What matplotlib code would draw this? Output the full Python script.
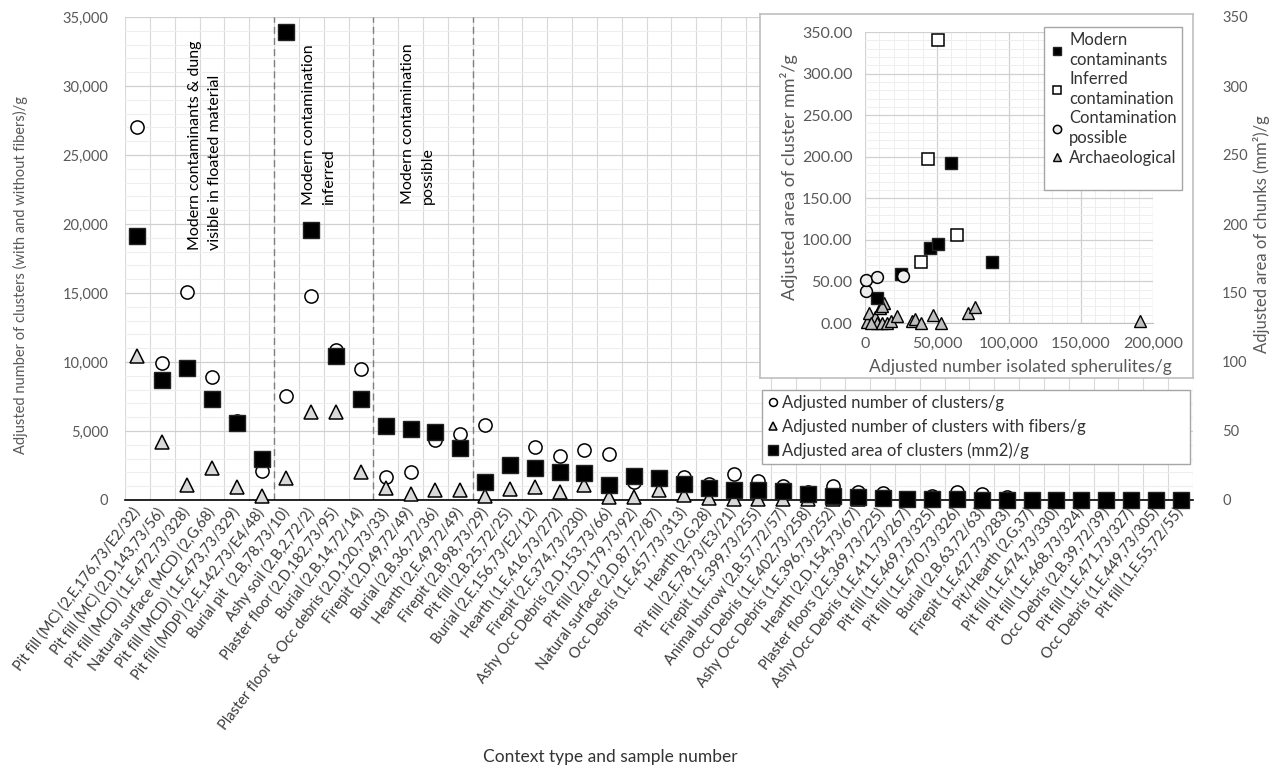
import numpy as np
import matplotlib
matplotlib.use("Agg")
import matplotlib.pyplot as plt
from matplotlib.lines import Line2D
from matplotlib.ticker import FuncFormatter, MultipleLocator, FixedLocator

plt.rcParams['font.family'] = ['Lato', 'DejaVu Sans']

# context labels (x axis)
contexts = [
    "Pit fill (MC) (2,E,176,73/E2/32)", "Pit fill (MC) (2,D,143,73/56)",
    "Pit fill (MCD) (1,E,472,73/328)", "Natural surface (MCD) (2,G,68)",
    "Pit fill (MCD) (1,E,473,73/329)", "Pit fill (MDP) (2,E,142,73/E4/48)",
    "Burial pit  (2,B,78,73/10)", "Ashy soil (2,B,2,72/2)",
    "Plaster floor (2,D,182,73/95)", "Burial (2,B,14,72/14)",
    "Plaster floor & Occ debris (2,D,120,73/33)", "Firepit (2,D,49,72/49)",
    "Burial (2,B,36,72/36)", "Hearth (2,E,49,72/49)",
    "Firepit (2,B,98,73/29)", "Pit fill (2,B,25,72/25)",
    "Burial (2,E,156,73/E2/12)", "Hearth (1,E,416,73/272)",
    "Firepit (2,E,374,73/230)", "Ashy Occ Debris (2,D,153,73/66)",
    "Pit fill (2,D,179,73/92)", "Natural surface (2,D,87,72/87)",
    "Occ Debris (1,E,457,73/313)", "Hearth (2,G,28)",
    "Pit fill (2,E,78,73/E3/21)", "Firepit (1,E,399,73/255)",
    "Animal burrow (2,B,57,72/57)", "Occ Debris (1,E,402,73/258)",
    "Ashy Occ Debris (1,E,396,73/252)", "Hearth (2,D,154,73/67)",
    "Plaster floors (2,E,369,73/225)", "Ashy Occ Debris (1,E,411,73/267)",
    "Pit fill (1,E,469,73/325)", "Pit fill (1,E,470,73/326)",
    "Burial (2,B,63,72/63)", "Firepit (1,E,427,73/283)",
    "Pit/Hearth (2,G,37)", "Pit fill (1,E,474,73/330)",
    "Pit fill (1,E,468,73/324)", "Occ Debris (2,B,39,72/39)",
    "Pit fill (1,E,471,73/327)", "Occ Debris (1,E,449,73/305)",
    "Pit fill (1,E,55,72/55)",
]

# adjusted number of clusters/g
clusters = [27000, 9900, 15100, 8900, 5700, 2100, 7500, 14800, 10900, 9500,
            1650, 2000, 4350, 4750, 5400, 2500, 3850, 3200, 3650, 3300,
            1300, 1520, 1650, 1160, 1870, 1400, 1000, 600, 980, 580,
            500, 0, 260, 600, 430, 250, 0, 0, 0, 0, 0, 0, 0]

# adjusted number of clusters with fibers/g
fibers = [10400, 4200, 1100, 2300, 950, 300, 1600, 6350, 6350, 2000,
          900, 450, 750, 750, 300, 800, 950, 580, 1100, 250,
          250, 750, 350, 150, 100, 100, 80, 60, 60, 50,
          40, 30, 20, 20, 10, 10, 0, 0, 0, 0, 0, 0, 0]

# adjusted area of clusters (mm2)/g  (secondary axis)
area = [191, 87, 95.7, 73, 55.8, 29.7, 339, 195.6, 104, 73,
        53.6, 51.6, 49.5, 37.5, 13, 25.4, 23.2, 20.5, 19.8, 10.9,
        17.6, 15.9, 11.5, 8.5, 7.5, 7.2, 6.5, 4, 3.2, 2.5,
        1.8, 1.0, 0.8, 0.5, 0.3, 0.2, 0.1, 0.1, 0, 0, 0, 0, 0]

# inset scatter data (isolated spherulites/g vs area mm2/g)
modern_x = [8100, 25000, 45100, 50900, 59700, 88000]
modern_y = [29.7, 59, 89.9, 95, 192, 73.8]
inferred_x = [38700, 43500, 50900, 63700]
inferred_y = [73.8, 197, 340, 105.9]
possible_x = [700, 700, 8100, 26500]
possible_y = [38.9, 51.7, 55.7, 57]
arch_x = [1200, 3000, 6900, 8100, 10400, 11600, 13200, 15000, 18000, 22000,
          32400, 34700, 38700, 47500, 52800, 71700, 76400, 191000, 4500, 12000]
arch_y = [1.6, 11.6, 7.6, 0.4, 17.7, 0.2, 23.7, 0.3, 3, 8,
          2, 5, 0.5, 9.7, 0.5, 11.6, 19.7, 3, 0.5, 20]

grey = '#595959'
W, H = 1277, 769

fig = plt.figure(figsize=(W/100, H/100), dpi=100)

# main chart
ax = fig.add_axes([125/W, 1-500/H, (1193-125)/W, (500-17)/H])
x = np.arange(len(contexts))
ax.set_xlim(-0.5, len(contexts)-0.5)
ax.set_ylim(0, 35000)
ax.yaxis.set_major_locator(MultipleLocator(5000))
ax.yaxis.set_minor_locator(MultipleLocator(1000))
ax.yaxis.set_major_formatter(FuncFormatter(lambda v, p: f"{v:,.0f}"))
ax.set_xticks(x)
ax.set_xticklabels(contexts, rotation=53, ha='right', va='center',
                   rotation_mode='anchor', fontsize=10.5, color='#3a3a3a')
ax.xaxis.set_minor_locator(FixedLocator(np.arange(len(contexts)+1)-0.5))
ax.grid(which='minor', axis='y', color='#eeeeee', lw=0.8)
ax.grid(which='major', axis='y', color='#d0d0d0', lw=0.9)
ax.grid(which='minor', axis='x', color='#d9d9d9', lw=0.8)
ax.set_axisbelow(True)
ax.tick_params(axis='both', which='both', length=0)
ax.tick_params(axis='x', pad=7)
ax.tick_params(axis='y', pad=12, labelsize=10.5, labelcolor=grey)
for s in ['top', 'right', 'left']:
    ax.spines[s].set_visible(False)
ax.spines['bottom'].set_color('black')
ax.spines['bottom'].set_linewidth(1.2)

# group separators
for b in [5.5, 9.5, 13.5]:
    ax.axvline(b, color='#7f7f7f', lw=1, dashes=(5, 3))

h1, = ax.plot(x, clusters, ls='none', marker='o', ms=9.5, mfc='white',
              mec='black', mew=1.1, clip_on=False, zorder=3,
              label='Adjusted number of clusters/g')
h2, = ax.plot(x, fibers, ls='none', marker='^', ms=10, mfc='#d9d9d9',
              mec='black', mew=1.1, clip_on=False, zorder=4,
              label='Adjusted number of clusters with fibers/g')

ax.text(2.74, 18100, "Modern contaminants & dung\nvisible in floated material",
        rotation=90, ha='center', va='bottom', multialignment='left',
        fontsize=11.5, linespacing=1.55)
ax.text(7.3, 21400, "Modern contamination\ninferred",
        rotation=90, ha='center', va='bottom', multialignment='left',
        fontsize=11.5, linespacing=1.55)
ax.text(11.3, 21450, "Modern contamination\npossible",
        rotation=90, ha='center', va='bottom', multialignment='left',
        fontsize=11.5, linespacing=1.55)

ax2 = ax.twinx()
ax2.set_ylim(0, 350)
ax2.yaxis.set_major_locator(MultipleLocator(50))
ax2.tick_params(axis='y', length=0, pad=21, labelsize=10.5, labelcolor=grey)
for s in ax2.spines.values():
    s.set_visible(False)
h3, = ax2.plot(x, area, ls='none', marker='s', ms=11, mfc='black',
               mec='#222222', mew=1, clip_on=False, zorder=5,
               label='Adjusted area of clusters (mm2)/g')

leg = ax2.legend(handles=[h1, h2, h3], loc='upper left', mode='expand',
                 bbox_to_anchor=(762/W, 1-460/H, 428/W, 70/H),
                 bbox_transform=fig.transFigure, fancybox=False,
                 edgecolor='#a6a6a6', framealpha=1, fontsize=12,
                 markerscale=0.6, handlelength=0.7, handletextpad=0.2,
                 labelspacing=0.45, borderpad=0.3, borderaxespad=0)
for t in leg.get_texts():
    t.set_color('#333333')

fig.text(20/W, 1-275/H, "Adjusted number of clusters (with and without fibers)/g",
         rotation=90, ha='center', va='center', fontsize=10.5, color=grey)
fig.text(1262/W, 1-234/H, "Adjusted area of chunks (mm\u00b2)/g",
         rotation=90, ha='center', va='center', fontsize=12, color=grey)
fig.text(610/W, 1-757/H, "Context type and sample number",
         ha='center', va='center', fontsize=12.5, color='#333333')

# inset frame
frame = fig.add_axes([760/W, 1-378/H, 433/W, 364/H])
frame.set_xticks([])
frame.set_yticks([])
frame.set_facecolor('white')
for s in frame.spines.values():
    s.set_color('#bfbfbf')
    s.set_linewidth(1.2)

# inset scatter
ins = fig.add_axes([865/W, 1-323/H, 288/W, 291/H])
ins.set_xlim(0, 200000)
ins.set_ylim(0, 350)
ins.xaxis.set_major_locator(MultipleLocator(50000))
ins.xaxis.set_minor_locator(MultipleLocator(10000))
ins.yaxis.set_major_locator(MultipleLocator(50))
ins.yaxis.set_minor_locator(MultipleLocator(10))
ins.xaxis.set_major_formatter(FuncFormatter(lambda v, p: f"{v:,.0f}"))
ins.yaxis.set_major_formatter(FuncFormatter(lambda v, p: f"{v:.2f}"))
ins.grid(which='minor', color='#eeeeee', lw=0.7)
ins.grid(which='major', color='#d0d0d0', lw=0.9)
ins.set_axisbelow(True)
ins.tick_params(axis='both', which='both', length=0, labelsize=11.5,
                labelcolor=grey)
ins.tick_params(axis='x', pad=10)
ins.tick_params(axis='y', pad=9)
for s in ['top', 'right', 'left']:
    ins.spines[s].set_visible(False)
ins.spines['bottom'].set_color('#bfbfbf')

g1, = ins.plot(modern_x, modern_y, ls='none', marker='s', ms=8.5,
               mfc='black', mec='#222222', clip_on=False, zorder=4,
               label='Modern\ncontaminants')
g2, = ins.plot(inferred_x, inferred_y, ls='none', marker='s', ms=8.5,
               mfc='white', mec='black', mew=1.1, clip_on=False, zorder=3,
               label='Inferred\ncontamination')
g3, = ins.plot(possible_x, possible_y, ls='none', marker='o', ms=8.5,
               mfc='#eeeeee', mec='black', mew=1.1, clip_on=False, zorder=5,
               label='Contamination\npossible')
g4, = ins.plot(arch_x, arch_y, ls='none', marker='^', ms=9, mfc='#bfbfbf',
               mec='black', mew=1, clip_on=False, zorder=3,
               label='Archaeological')
ins.set_xlabel("Adjusted number isolated spherulites/g", fontsize=12.6,
               color=grey)
ins.xaxis.set_label_coords(0.54, -0.125)
ins.set_ylabel("Adjusted area of cluster mm\u00b2/g", fontsize=13,
               color=grey, labelpad=3)

# blank row keeps the empty space at the bottom of the legend box
blank = Line2D([], [], ls='none', label=' ')
ileg = ins.legend(handles=[g1, g2, g3, g4, blank], loc='upper right',
                  bbox_to_anchor=(1182/W, 1-27/H),
                  bbox_transform=fig.transFigure, fancybox=False,
                  edgecolor='#a6a6a6', framealpha=1, fontsize=12,
                  markerscale=0.7, handlelength=1.0, handletextpad=0.25,
                  labelspacing=0.2, borderpad=0.3, borderaxespad=0)
for t in ileg.get_texts():
    t.set_linespacing(1.3)
    t.set_color('#333333')

fig.savefig("out.png", dpi=100)
